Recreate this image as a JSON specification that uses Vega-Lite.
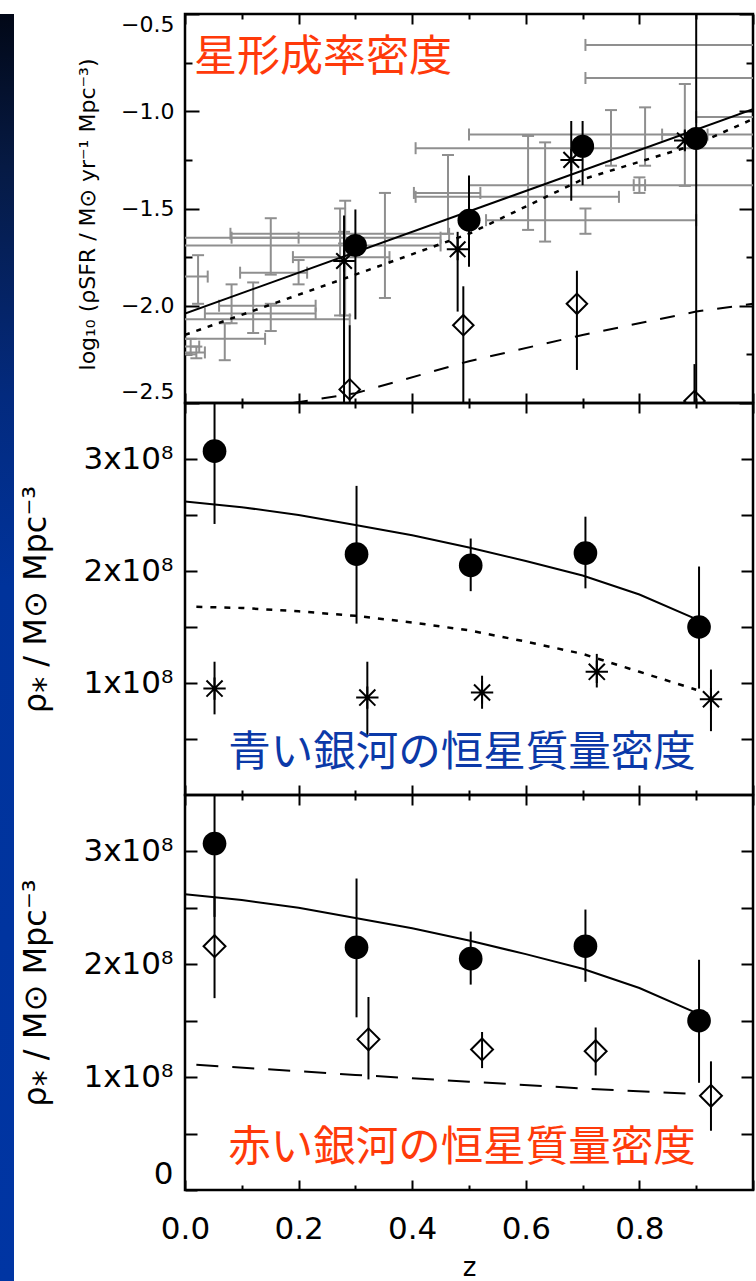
{
  "$schema": "https://vega.github.io/schema/vega-lite/v6.json",
  "background": "white",
  "padding": {"left": 0, "top": 11, "right": 0, "bottom": 0},
  "spacing": 3,
  "datasets": {
    "sfr_lit": [
      {"z": 0.151, "zlo": 0.082, "zhi": 0.2, "v": -1.65, "vlo": -1.84, "vhi": -1.55},
      {"z": 0.28, "zlo": -0.05, "zhi": 0.45, "v": -1.65, "vlo": -1.68, "vhi": -1.62},
      {"z": 0.023, "zlo": -0.05, "zhi": 0.04, "v": -1.85, "vlo": -1.99, "vhi": -1.74},
      {"z": 0.2, "zlo": 0.097, "zhi": 0.215, "v": -1.83, "vlo": -1.89, "vhi": -1.765},
      {"z": 0.082, "zlo": 0.06, "zhi": 0.23, "v": -2.0, "vlo": -2.09, "vhi": -1.89},
      {"z": 0.12, "zlo": 0.035, "zhi": 0.23, "v": -2.04, "vlo": -2.14, "vhi": -1.88},
      {"z": 0.151, "zlo": -0.05, "zhi": 0.29, "v": -2.07, "vlo": -2.13, "vhi": -1.99},
      {"z": 0.07, "zlo": -0.05, "zhi": 0.141, "v": -2.17, "vlo": -2.28, "vhi": -2.09},
      {"z": 0.273, "zlo": 0.08, "zhi": 0.465, "v": -1.63, "vlo": -2.05, "vhi": -1.5},
      {"z": 0.01, "zlo": -0.05, "zhi": 0.025, "v": -2.21, "vlo": -2.25, "vhi": -2.17},
      {"z": 0.02, "zlo": -0.05, "zhi": 0.035, "v": -2.24, "vlo": -2.27, "vhi": -2.21},
      {"z": 0.352, "zlo": -0.05, "zhi": 0.45, "v": -1.69, "vlo": -1.96, "vhi": -1.42},
      {"z": 0.282, "zlo": 0.19, "zhi": 0.36, "v": -1.75, "vlo": -2.05, "vhi": -1.46},
      {"z": 0.463, "zlo": 0.403, "zhi": 0.52, "v": -1.42, "vlo": -1.63, "vhi": -1.225},
      {"z": 0.604, "zlo": 0.5, "zhi": 1.2, "v": -1.38, "vlo": -1.61, "vhi": -1.127},
      {"z": 0.634, "zlo": 0.406, "zhi": 0.764, "v": -1.44, "vlo": -1.67, "vhi": -1.16},
      {"z": 0.75, "zlo": 0.406, "zhi": 1.2, "v": -1.19, "vlo": -1.28, "vhi": -0.994},
      {"z": 0.81, "zlo": 0.5, "zhi": 1.2, "v": -1.12, "vlo": -1.28, "vhi": -0.98},
      {"z": 0.8, "zlo": 0.79, "zhi": 0.81, "v": -1.38, "vlo": -1.42, "vhi": -1.34},
      {"z": 0.88, "zlo": 0.84, "zhi": 0.92, "v": -1.12, "vlo": -1.384, "vhi": -0.86},
      {"z": 1.05, "zlo": 0.9, "zhi": 1.2, "v": -1.03, "vlo": -1.06, "vhi": -1.0},
      {"z": 1.05, "zlo": 0.705, "zhi": 1.2, "v": -0.659, "vlo": -0.68, "vhi": -0.64},
      {"z": 1.05, "zlo": 0.705, "zhi": 1.2, "v": -0.829, "vlo": -0.85, "vhi": -0.81},
      {"z": 0.705, "zlo": 0.53, "zhi": 0.9, "v": -1.56, "vlo": -1.63, "vhi": -1.5}
    ],
    "sfr_pts": [
      {"sample": "all", "z": 0.3, "v": -1.69, "vlo": -2.07, "vhi": -1.505},
      {"sample": "all", "z": 0.5, "v": -1.56, "vlo": -1.8, "vhi": -1.33},
      {"sample": "all", "z": 0.7, "v": -1.18, "vlo": -1.38, "vhi": -1.05},
      {"sample": "all", "z": 0.9, "v": -1.14, "vlo": -2.8, "vhi": -0.2},
      {"sample": "blue", "z": 0.28, "v": -1.77, "vlo": -2.8, "vhi": -1.536},
      {"sample": "blue", "z": 0.48, "v": -1.71, "vlo": -2.03, "vhi": -1.62},
      {"sample": "blue", "z": 0.68, "v": -1.25, "vlo": -1.46, "vhi": -1.05},
      {"sample": "blue", "z": 0.88, "v": -1.15, "vlo": -1.2, "vhi": -1.1},
      {"sample": "red", "z": 0.29, "v": -2.43, "vlo": -2.8, "vhi": -2.1},
      {"sample": "red", "z": 0.49, "v": -2.1, "vlo": -2.8, "vhi": -1.9},
      {"sample": "red", "z": 0.69, "v": -1.99, "vlo": -2.33, "vhi": -1.82},
      {"sample": "red", "z": 0.897, "v": -2.49, "vlo": -2.8, "vhi": -2.3}
    ],
    "sfr_fit_total": [{"z": 0, "v": -2.04}, {"z": 1, "v": -0.99}],
    "sfr_fit_blue": [
      {"z": 0, "v": -2.15}, {"z": 0.3, "v": -1.84}, {"z": 0.5, "v": -1.63},
      {"z": 0.7, "v": -1.35}, {"z": 0.9, "v": -1.17}, {"z": 1, "v": -1.04}
    ],
    "sfr_fit_red": [
      {"z": 0.19, "v": -2.5}, {"z": 0.3, "v": -2.45}, {"z": 0.5, "v": -2.285},
      {"z": 0.7, "v": -2.15}, {"z": 0.9, "v": -2.03}, {"z": 1, "v": -1.99}
    ],
    "mass_pts": [
      {"sample": "all", "z": 0.052, "v": 3.07e8, "lo": 2.42e8, "hi": 3.6e8},
      {"sample": "all", "z": 0.302, "v": 2.15e8, "lo": 1.53e8, "hi": 2.76e8},
      {"sample": "all", "z": 0.503, "v": 2.05e8, "lo": 1.82e8, "hi": 2.29e8},
      {"sample": "all", "z": 0.705, "v": 2.16e8, "lo": 1.845e8, "hi": 2.485e8},
      {"sample": "all", "z": 0.905, "v": 1.5e8, "lo": 0.95e8, "hi": 2.04e8},
      {"sample": "blue", "z": 0.052, "v": 0.95e8, "lo": 0.72e8, "hi": 1.19e8},
      {"sample": "blue", "z": 0.321, "v": 0.87e8, "lo": 0.525e8, "hi": 1.19e8},
      {"sample": "blue", "z": 0.523, "v": 0.915e8, "lo": 0.77e8, "hi": 1.065e8},
      {"sample": "blue", "z": 0.725, "v": 1.1e8, "lo": 0.96e8, "hi": 1.26e8},
      {"sample": "blue", "z": 0.926, "v": 0.855e8, "lo": 0.57e8, "hi": 1.12e8},
      {"sample": "red", "z": 0.052, "v": 2.16e8, "lo": 1.7e8, "hi": 2.6e8},
      {"sample": "red", "z": 0.323, "v": 1.335e8, "lo": 0.98e8, "hi": 1.71e8},
      {"sample": "red", "z": 0.523, "v": 1.245e8, "lo": 1.08e8, "hi": 1.4e8},
      {"sample": "red", "z": 0.723, "v": 1.23e8, "lo": 1.015e8, "hi": 1.44e8},
      {"sample": "red", "z": 0.926, "v": 0.835e8, "lo": 0.525e8, "hi": 1.14e8}
    ],
    "mass_fit_total": [
      {"z": 0, "v": 2.62e8}, {"z": 0.1, "v": 2.57e8}, {"z": 0.2, "v": 2.5e8},
      {"z": 0.3, "v": 2.41e8}, {"z": 0.4, "v": 2.32e8}, {"z": 0.5, "v": 2.21e8},
      {"z": 0.6, "v": 2.09e8}, {"z": 0.7, "v": 1.96e8}, {"z": 0.8, "v": 1.79e8},
      {"z": 0.9, "v": 1.57e8}
    ],
    "mass_fit_blue": [
      {"z": 0.02, "v": 1.68e8}, {"z": 0.1, "v": 1.67e8}, {"z": 0.2, "v": 1.64e8},
      {"z": 0.3, "v": 1.6e8}, {"z": 0.4, "v": 1.54e8}, {"z": 0.5, "v": 1.47e8},
      {"z": 0.6, "v": 1.37e8}, {"z": 0.7, "v": 1.26e8}, {"z": 0.8, "v": 1.1e8},
      {"z": 0.9, "v": 0.94e8}
    ],
    "mass_fit_red": [
      {"z": 0.02, "v": 1.11e8}, {"z": 0.3, "v": 1.02e8}, {"z": 0.5, "v": 0.96e8},
      {"z": 0.7, "v": 0.9e8}, {"z": 0.9, "v": 0.85e8}
    ]
  },
  "hconcat": [
    {
      "width": 14,
      "height": 1270,
      "view": {"stroke": null},
      "data": {"values": [{"band": "edge"}]},
      "mark": {
        "type": "rect",
        "color": {
          "gradient": "linear", "x1": 0, "y1": 0, "x2": 0, "y2": 1,
          "stops": [
            {"offset": 0, "color": "#020817"},
            {"offset": 0.12, "color": "#061a44"},
            {"offset": 0.3, "color": "#032a7e"},
            {"offset": 0.45, "color": "#00339b"},
            {"offset": 1, "color": "#0035a3"}
          ]
        }
      },
      "encoding": {}
    },
    {
      "spacing": 0,
      "bounds": "flush",
      "vconcat": [
        {
          "width": 568,
          "height": 389,
          "resolve": {"axis": {"x": "independent", "y": "independent"}},
          "layer": [
            {
              "data": {"name": "sfr_lit"},
              "mark": {"type": "rule", "color": "#8f8f8f", "strokeWidth": 2, "clip": true},
              "encoding": {
                "x": {"field": "zlo", "type": "quantitative", "scale": {"domain": [0, 1], "nice": false, "zero": false},
                      "axis": {"orient": "bottom", "values": [0, 0.2, 0.4, 0.6, 0.8, 1], "tickSize": -10, "labels": false, "title": null}},
                "x2": {"field": "zhi"},
                "y": {"field": "v", "type": "quantitative", "scale": {"domain": [-2.5, -0.5], "nice": false, "zero": false},
                      "axis": {"orient": "left", "values": [-2.5, -2, -1.5, -1, -0.5], "tickSize": -14, "labelPadding": 25,
                               "labelFontSize": 22, "labelFlush": true, "format": ".1f",
                               "title": "log₁₀ (ρSFR / M⊙ yr⁻¹ Mpc⁻³)", "titleFontSize": 22, "titleAngle": 270,
                               "titleBaseline": "bottom", "titleAlign": "center", "titleX": -86, "titleY": 200}}
              }
            },
            {
              "data": {"name": "sfr_lit"},
              "mark": {"type": "rule", "color": "#8f8f8f", "strokeWidth": 2, "clip": true},
              "encoding": {
                "x": {"field": "z", "type": "quantitative", "scale": {"domain": [0, 1], "nice": false, "zero": false},
                      "axis": {"orient": "bottom", "values": [0.1, 0.3, 0.5, 0.7, 0.9], "tickSize": -5, "labels": false, "title": null}},
                "y": {"field": "vlo", "type": "quantitative", "scale": {"domain": [-2.5, -0.5], "nice": false, "zero": false},
                      "axis": {"orient": "left", "values": [-2.25, -1.75, -1.25, -0.75], "tickSize": -7, "labels": false, "title": null}},
                "y2": {"field": "vhi"}
              }
            },
            {
              "data": {"name": "sfr_lit"},
              "transform": [{"fold": ["zlo", "zhi"], "as": ["end", "zc"]}],
              "mark": {"type": "tick", "orient": "vertical", "size": 12, "thickness": 2, "color": "#8f8f8f", "opacity": 1, "clip": true},
              "encoding": {
                "x": {"field": "zc", "type": "quantitative", "scale": {"domain": [0, 1], "nice": false, "zero": false},
                      "axis": {"orient": "top", "values": [0, 0.2, 0.4, 0.6, 0.8, 1], "tickSize": -10, "labels": false, "title": null}},
                "y": {"field": "v", "type": "quantitative", "scale": {"domain": [-2.5, -0.5], "nice": false, "zero": false},
                      "axis": {"orient": "right", "values": [-2.5, -2, -1.5, -1, -0.5], "tickSize": -14, "labels": false, "title": null}}
              }
            },
            {
              "data": {"name": "sfr_lit"},
              "transform": [{"fold": ["vlo", "vhi"], "as": ["end", "vc"]}],
              "mark": {"type": "tick", "orient": "horizontal", "size": 12, "thickness": 2, "color": "#8f8f8f", "opacity": 1, "clip": true},
              "encoding": {
                "x": {"field": "z", "type": "quantitative", "scale": {"domain": [0, 1], "nice": false, "zero": false},
                      "axis": {"orient": "top", "values": [0.1, 0.3, 0.5, 0.7, 0.9], "tickSize": -5, "labels": false, "title": null}},
                "y": {"field": "vc", "type": "quantitative", "scale": {"domain": [-2.5, -0.5], "nice": false, "zero": false},
                      "axis": {"orient": "right", "values": [-2.25, -1.75, -1.25, -0.75], "tickSize": -7, "labels": false, "title": null}}
              }
            },
            {
              "data": {"name": "sfr_fit_total"},
              "mark": {"type": "line", "color": "black", "strokeWidth": 2, "clip": true},
              "encoding": {
                "x": {"field": "z", "type": "quantitative", "scale": {"domain": [0, 1], "nice": false, "zero": false}, "axis": null},
                "y": {"field": "v", "type": "quantitative", "scale": {"domain": [-2.5, -0.5], "nice": false, "zero": false}, "axis": null}
              }
            },
            {
              "data": {"name": "sfr_fit_blue"},
              "mark": {"type": "line", "color": "black", "strokeWidth": 2.5, "strokeDash": [5, 7], "clip": true},
              "encoding": {
                "x": {"field": "z", "type": "quantitative", "scale": {"domain": [0, 1], "nice": false, "zero": false}, "axis": null},
                "y": {"field": "v", "type": "quantitative", "scale": {"domain": [-2.5, -0.5], "nice": false, "zero": false}, "axis": null}
              }
            },
            {
              "data": {"name": "sfr_fit_red"},
              "mark": {"type": "line", "color": "black", "strokeWidth": 2, "strokeDash": [15, 14], "clip": true},
              "encoding": {
                "x": {"field": "z", "type": "quantitative", "scale": {"domain": [0, 1], "nice": false, "zero": false}, "axis": null},
                "y": {"field": "v", "type": "quantitative", "scale": {"domain": [-2.5, -0.5], "nice": false, "zero": false}, "axis": null}
              }
            },
            {
              "data": {"name": "sfr_pts"},
              "mark": {"type": "rule", "color": "black", "strokeWidth": 2, "clip": true},
              "encoding": {
                "x": {"field": "z", "type": "quantitative", "scale": {"domain": [0, 1], "nice": false, "zero": false}, "axis": null},
                "y": {"field": "vlo", "type": "quantitative", "scale": {"domain": [-2.5, -0.5], "nice": false, "zero": false}, "axis": null},
                "y2": {"field": "vhi"}
              }
            },
            {
              "data": {"name": "sfr_pts"},
              "transform": [{"filter": "datum.sample === 'all'"}],
              "mark": {"type": "point", "shape": "circle", "filled": true, "size": 530, "color": "black", "opacity": 1, "clip": true},
              "encoding": {
                "x": {"field": "z", "type": "quantitative", "scale": {"domain": [0, 1], "nice": false, "zero": false}, "axis": null},
                "y": {"field": "v", "type": "quantitative", "scale": {"domain": [-2.5, -0.5], "nice": false, "zero": false}, "axis": null}
              }
            },
            {
              "data": {"name": "sfr_pts"},
              "transform": [{"filter": "datum.sample === 'blue'"}],
              "mark": {"type": "point", "shape": "M-1,0H1M0,-1V1M-0.72,-0.72L0.72,0.72M-0.72,0.72L0.72,-0.72", "filled": false, "size": 470, "strokeWidth": 2, "color": "black", "opacity": 1, "clip": true},
              "encoding": {
                "x": {"field": "z", "type": "quantitative", "scale": {"domain": [0, 1], "nice": false, "zero": false}, "axis": null},
                "y": {"field": "v", "type": "quantitative", "scale": {"domain": [-2.5, -0.5], "nice": false, "zero": false}, "axis": null}
              }
            },
            {
              "data": {"name": "sfr_pts"},
              "transform": [{"filter": "datum.sample === 'red'"}],
              "mark": {"type": "point", "shape": "diamond", "filled": false, "size": 420, "strokeWidth": 2, "color": "black", "opacity": 1, "clip": true},
              "encoding": {
                "x": {"field": "z", "type": "quantitative", "scale": {"domain": [0, 1], "nice": false, "zero": false}, "axis": null},
                "y": {"field": "v", "type": "quantitative", "scale": {"domain": [-2.5, -0.5], "nice": false, "zero": false}, "axis": null}
              }
            },
            {
              "data": {"values": [{"z": 0.016, "v": -0.726, "label": "星形成率密度"}]},
              "mark": {"type": "text", "font": "Noto Sans CJK JP", "fontSize": 43, "color": "#ff3a0a", "align": "left", "baseline": "middle"},
              "encoding": {
                "x": {"field": "z", "type": "quantitative", "scale": {"domain": [0, 1], "nice": false, "zero": false}, "axis": null},
                "y": {"field": "v", "type": "quantitative", "scale": {"domain": [-2.5, -0.5], "nice": false, "zero": false}, "axis": null},
                "text": {"field": "label"}
              }
            }
          ]
        },
        {
          "width": 568,
          "height": 392,
          "resolve": {"axis": {"x": "independent", "y": "independent"}},
          "layer": [
            {
              "data": {"name": "mass_pts"},
              "transform": [{"filter": "datum.sample !== 'red'"}],
              "mark": {"type": "rule", "color": "black", "strokeWidth": 2, "clip": true},
              "encoding": {
                "x": {"field": "z", "type": "quantitative", "scale": {"domain": [0, 1], "nice": false, "zero": false},
                      "axis": {"orient": "bottom", "values": [0, 0.2, 0.4, 0.6, 0.8, 1], "tickSize": -10, "labels": false, "title": null}},
                "y": {"field": "lo", "type": "quantitative", "scale": {"domain": [0, 3.5e8], "nice": false, "zero": false},
                      "axis": {"orient": "left", "values": [5e7, 1e8, 1.5e8, 2e8, 2.5e8, 3e8], "tickSize": -12, "labelPadding": 24,
                               "labelFontSize": 31, "labelFlush": false,
                               "labelExpr": "datum.value % 100000000 === 0 ? format(datum.value / 100000000, 'd') + 'x10⁸' : ''",
                               "title": "ρ⁎ / M⊙ Mpc⁻³", "titleFontSize": 32, "titleAngle": 270,
                               "titleBaseline": "bottom", "titleAlign": "center", "titleX": -133, "titleY": 196}},
                "y2": {"field": "hi"}
              }
            },
            {
              "data": {"name": "mass_fit_total"},
              "mark": {"type": "line", "color": "black", "strokeWidth": 2, "clip": true},
              "encoding": {
                "x": {"field": "z", "type": "quantitative", "scale": {"domain": [0, 1], "nice": false, "zero": false},
                      "axis": {"orient": "bottom", "values": [0.1, 0.3, 0.5, 0.7, 0.9], "tickSize": -5, "labels": false, "title": null}},
                "y": {"field": "v", "type": "quantitative", "scale": {"domain": [0, 3.5e8], "nice": false, "zero": false},
                      "axis": {"orient": "right", "values": [5e7, 1e8, 1.5e8, 2e8, 2.5e8, 3e8], "tickSize": -12, "labels": false, "title": null}}
              }
            },
            {
              "data": {"name": "mass_fit_blue"},
              "mark": {"type": "line", "color": "black", "strokeWidth": 2.5, "strokeDash": [6, 8], "clip": true},
              "encoding": {
                "x": {"field": "z", "type": "quantitative", "scale": {"domain": [0, 1], "nice": false, "zero": false},
                      "axis": {"orient": "top", "values": [0, 0.2, 0.4, 0.6, 0.8, 1], "tickSize": -10, "labels": false, "title": null}},
                "y": {"field": "v", "type": "quantitative", "scale": {"domain": [0, 3.5e8], "nice": false, "zero": false}, "axis": null}
              }
            },
            {
              "data": {"name": "mass_pts"},
              "transform": [{"filter": "datum.sample === 'all'"}],
              "mark": {"type": "point", "shape": "circle", "filled": true, "size": 560, "color": "black", "opacity": 1, "clip": true},
              "encoding": {
                "x": {"field": "z", "type": "quantitative", "scale": {"domain": [0, 1], "nice": false, "zero": false},
                      "axis": {"orient": "top", "values": [0.1, 0.3, 0.5, 0.7, 0.9], "tickSize": -5, "labels": false, "title": null}},
                "y": {"field": "v", "type": "quantitative", "scale": {"domain": [0, 3.5e8], "nice": false, "zero": false}, "axis": null}
              }
            },
            {
              "data": {"name": "mass_pts"},
              "transform": [{"filter": "datum.sample === 'blue'"}],
              "mark": {"type": "point", "shape": "M-1,0H1M0,-1V1M-0.72,-0.72L0.72,0.72M-0.72,0.72L0.72,-0.72", "filled": false, "size": 500, "strokeWidth": 2, "color": "black", "opacity": 1, "clip": true},
              "encoding": {
                "x": {"field": "z", "type": "quantitative", "scale": {"domain": [0, 1], "nice": false, "zero": false}, "axis": null},
                "y": {"field": "v", "type": "quantitative", "scale": {"domain": [0, 3.5e8], "nice": false, "zero": false}, "axis": null}
              }
            },
            {
              "data": {"values": [{"z": 0.076, "v": 3.75e7, "label": "青い銀河の恒星質量密度"}]},
              "mark": {"type": "text", "font": "Noto Sans CJK JP", "fontSize": 42.5, "color": "#0b39a8", "align": "left", "baseline": "middle"},
              "encoding": {
                "x": {"field": "z", "type": "quantitative", "scale": {"domain": [0, 1], "nice": false, "zero": false}, "axis": null},
                "y": {"field": "v", "type": "quantitative", "scale": {"domain": [0, 3.5e8], "nice": false, "zero": false}, "axis": null},
                "text": {"field": "label"}
              }
            }
          ]
        },
        {
          "width": 568,
          "height": 395,
          "resolve": {"axis": {"x": "independent", "y": "independent"}},
          "layer": [
            {
              "data": {"name": "mass_pts"},
              "transform": [{"filter": "datum.sample !== 'blue'"}],
              "mark": {"type": "rule", "color": "black", "strokeWidth": 2, "clip": true},
              "encoding": {
                "x": {"field": "z", "type": "quantitative", "scale": {"domain": [0, 1], "nice": false, "zero": false},
                      "axis": {"orient": "bottom", "values": [0, 0.2, 0.4, 0.6, 0.8, 1], "tickSize": -10, "labelPadding": 34,
                               "labelFontSize": 31, "labelFlush": false,
                               "labelExpr": "datum.value < 0.95 ? format(datum.value, '.1f') : ''",
                               "title": "z", "titleFontSize": 26, "titleAngle": 0, "titleBaseline": "middle",
                               "titleAlign": "center", "titleX": 284, "titleY": 77}},
                "y": {"field": "lo", "type": "quantitative", "scale": {"domain": [0, 3.5e8], "nice": false, "zero": false},
                      "axis": {"orient": "left", "values": [0, 5e7, 1e8, 1.5e8, 2e8, 2.5e8, 3e8], "tickSize": -12, "labelPadding": 24,
                               "labelFontSize": 31, "labelFlush": true,
                               "labelExpr": "datum.value === 0 ? '0' : (datum.value % 100000000 === 0 ? format(datum.value / 100000000, 'd') + 'x10⁸' : '')",
                               "title": "ρ⁎ / M⊙ Mpc⁻³", "titleFontSize": 32, "titleAngle": 270,
                               "titleBaseline": "bottom", "titleAlign": "center", "titleX": -133, "titleY": 197.5}},
                "y2": {"field": "hi"}
              }
            },
            {
              "data": {"name": "mass_fit_total"},
              "mark": {"type": "line", "color": "black", "strokeWidth": 2, "clip": true},
              "encoding": {
                "x": {"field": "z", "type": "quantitative", "scale": {"domain": [0, 1], "nice": false, "zero": false},
                      "axis": {"orient": "bottom", "values": [0.1, 0.3, 0.5, 0.7, 0.9], "tickSize": -5, "labels": false, "title": null}},
                "y": {"field": "v", "type": "quantitative", "scale": {"domain": [0, 3.5e8], "nice": false, "zero": false},
                      "axis": {"orient": "right", "values": [5e7, 1e8, 1.5e8, 2e8, 2.5e8, 3e8], "tickSize": -12, "labels": false, "title": null}}
              }
            },
            {
              "data": {"name": "mass_fit_red"},
              "mark": {"type": "line", "color": "black", "strokeWidth": 2, "strokeDash": [22, 14], "clip": true},
              "encoding": {
                "x": {"field": "z", "type": "quantitative", "scale": {"domain": [0, 1], "nice": false, "zero": false},
                      "axis": {"orient": "top", "values": [0, 0.2, 0.4, 0.6, 0.8, 1], "tickSize": -10, "labels": false, "title": null}},
                "y": {"field": "v", "type": "quantitative", "scale": {"domain": [0, 3.5e8], "nice": false, "zero": false}, "axis": null}
              }
            },
            {
              "data": {"name": "mass_pts"},
              "transform": [{"filter": "datum.sample === 'all'"}],
              "mark": {"type": "point", "shape": "circle", "filled": true, "size": 560, "color": "black", "opacity": 1, "clip": true},
              "encoding": {
                "x": {"field": "z", "type": "quantitative", "scale": {"domain": [0, 1], "nice": false, "zero": false},
                      "axis": {"orient": "top", "values": [0.1, 0.3, 0.5, 0.7, 0.9], "tickSize": -5, "labels": false, "title": null}},
                "y": {"field": "v", "type": "quantitative", "scale": {"domain": [0, 3.5e8], "nice": false, "zero": false}, "axis": null}
              }
            },
            {
              "data": {"name": "mass_pts"},
              "transform": [{"filter": "datum.sample === 'red'"}],
              "mark": {"type": "point", "shape": "diamond", "filled": false, "size": 480, "strokeWidth": 2, "color": "black", "opacity": 1, "clip": true},
              "encoding": {
                "x": {"field": "z", "type": "quantitative", "scale": {"domain": [0, 1], "nice": false, "zero": false}, "axis": null},
                "y": {"field": "v", "type": "quantitative", "scale": {"domain": [0, 3.5e8], "nice": false, "zero": false}, "axis": null}
              }
            },
            {
              "data": {"values": [{"z": 0.076, "v": 3.72e7, "label": "赤い銀河の恒星質量密度"}]},
              "mark": {"type": "text", "font": "Noto Sans CJK JP", "fontSize": 42.5, "color": "#ff3a0a", "align": "left", "baseline": "middle"},
              "encoding": {
                "x": {"field": "z", "type": "quantitative", "scale": {"domain": [0, 1], "nice": false, "zero": false}, "axis": null},
                "y": {"field": "v", "type": "quantitative", "scale": {"domain": [0, 3.5e8], "nice": false, "zero": false}, "axis": null},
                "text": {"field": "label"}
              }
            }
          ]
        }
      ]
    }
  ],
  "config": {
    "view": {"stroke": "black", "strokeWidth": 2.5},
    "axis": {
      "domain": false,
      "grid": false,
      "tickColor": "black",
      "tickWidth": 2,
      "labelFont": "DejaVu Sans",
      "labelColor": "black",
      "labelOverlap": false,
      "titleFont": "DejaVu Sans",
      "titleColor": "black",
      "titleFontWeight": "normal"
    }
  }
}
